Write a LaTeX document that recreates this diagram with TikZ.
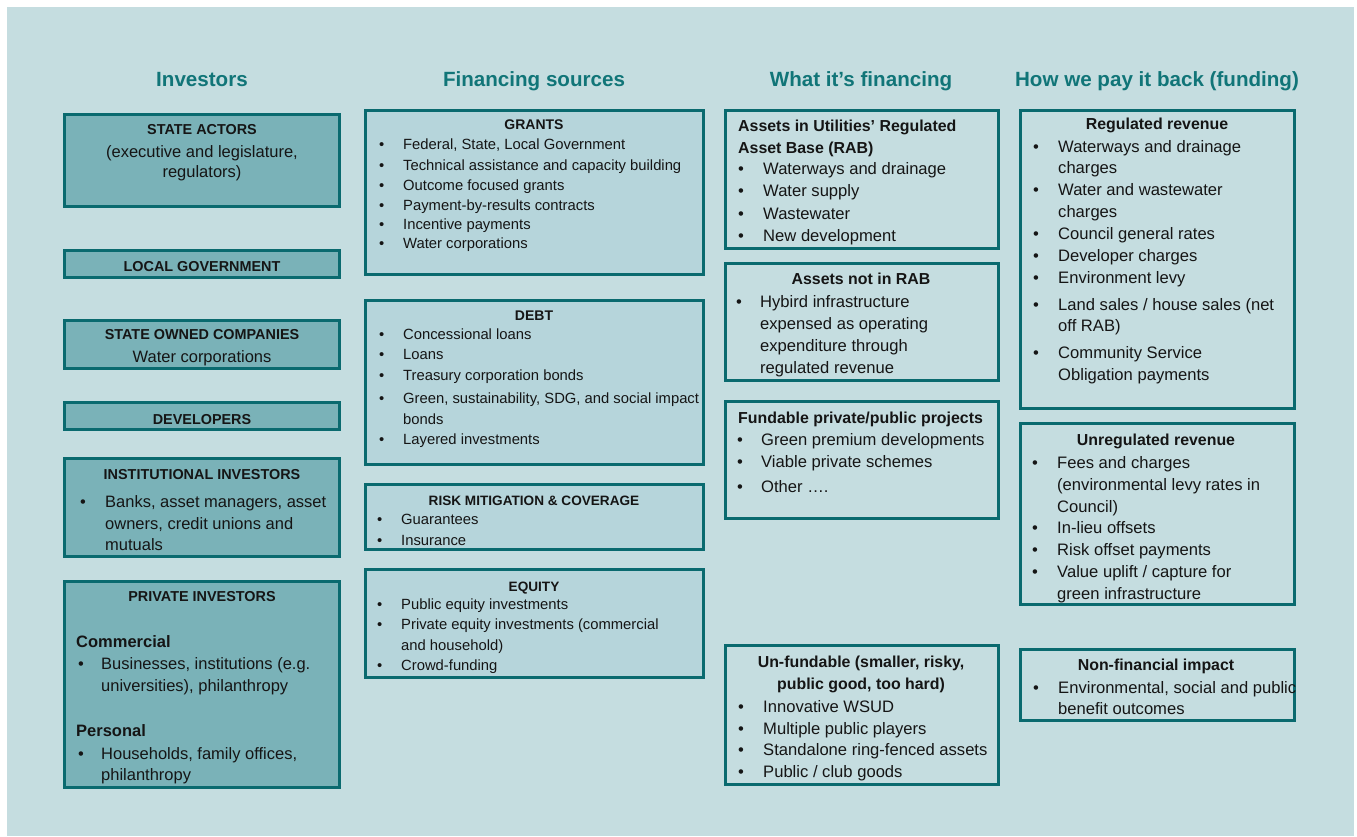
\documentclass[tikz,border=0pt]{standalone}
\usepackage{fontspec}
\setmainfont{Liberation Sans}
\usetikzlibrary{fit}
\definecolor{bgc}{HTML}{C5DDE0}
\definecolor{invfill}{HTML}{7AB2B8}
\definecolor{srcfill}{HTML}{B6D5DB}
\definecolor{edge}{HTML}{0A6A6F}
\definecolor{head}{HTML}{117578}
\definecolor{ink}{HTML}{151515}
\tikzset{
  boxbase/.style={draw=edge, line width=3pt, inner sep=0pt},
  invbox/.style={boxbase, fill=invfill},
  srcbox/.style={boxbase, fill=srcfill},
  usebox/.style={boxbase, fill=bgc},
  heading/.style={text=head, anchor=base, inner sep=0pt, font=\fontsize{20.6}{24}\selectfont\bfseries},
  txt/.style={text=ink, inner sep=0pt, anchor=base west},
  ctitle/.style={text=ink, inner sep=0pt, anchor=base},
  fa/.style={font=\fontsize{16.5}{20}\selectfont},
  fat/.style={font=\fontsize{14.4}{18}\selectfont\bfseries},
  fb/.style={font=\fontsize{14.8}{18}\selectfont},
  fbt/.style={font=\fontsize{14}{18}\selectfont\bfseries},
  fc/.style={font=\fontsize{16.6}{20}\selectfont},
  fct/.style={font=\fontsize{15.9}{20}\selectfont\bfseries},
}
% bullet item: name, font style, bullet x, text x, baseline y, text
\newcommand\bitem[6]{%
  \node[txt,#2] (#1-b) at (#3,#5) {\textbullet};
  \node[txt,#2] (#1) at (#4,#5) {#6};}
% plain line: name, font style, x, baseline y, text
\newcommand\pline[5]{\node[txt,#2] (#1) at (#3,#4) {#5};}
% centred title: name, font style, x, baseline y, text
\newcommand\ctl[5]{\node[ctitle,#2] (#1) at (#3,#4) {#5};}
\begin{document}
\begin{tikzpicture}[x=1pt,y=-1pt]
\useasboundingbox (0,0) rectangle (1357,836);
\fill[white] (0,0) rectangle (1357,836);
\fill[bgc] (7,7) rectangle (1354,836);

% headings
\node[heading] (h1) at (202,86) {Investors};
\node[heading] (h2) at (534,86) {Financing sources};
\node[heading] (h3) at (861,86) {What it’s financing};
\node[heading] (h4) at (1157,86) {How we pay it back (funding)};

% ---------------- column 1: investors ----------------
\node[invbox, fit={(64.5,114.5)(339.5,206)}] (sa) {};
\node[invbox, fit={(64.5,250)(339.5,277)}] (lg) {};
\node[invbox, fit={(64.5,320)(339.5,368.5)}] (soc) {};
\node[invbox, fit={(64.5,402)(339.5,429.5)}] (dev) {};
\node[invbox, fit={(64.5,458)(339.5,556.5)}] (inst) {};
\node[invbox, fit={(64.5,581.5)(339.5,787)}] (priv) {};

\ctl{sa-t}{fat}{202}{134}{STATE ACTORS}
\ctl{sa-1}{fa}{202}{157}{(executive and legislature,}
\ctl{sa-2}{fa}{202}{177}{regulators)}
\ctl{lg-t}{fat}{202}{271}{LOCAL GOVERNMENT}
\ctl{soc-t}{fat}{202}{339}{STATE OWNED COMPANIES}
\ctl{soc-1}{fa}{202}{362}{Water corporations}
\ctl{dev-t}{fat}{202}{424}{DEVELOPERS}
\ctl{inst-t}{fat}{202}{479}{INSTITUTIONAL INVESTORS}
\bitem{inst-1}{fa}{80}{105}{507}{Banks, asset managers, asset}
\pline{inst-2}{fa}{105}{529}{owners, credit unions and}
\pline{inst-3}{fa}{105}{550}{mutuals}
\ctl{priv-t}{fat}{202}{601}{PRIVATE INVESTORS}
\pline{priv-c}{fa,font=\fontsize{16.5}{20}\selectfont\bfseries}{76}{647}{Commercial}
\bitem{priv-1}{fa}{78}{101}{669}{Businesses, institutions (e.g.}
\pline{priv-2}{fa}{101}{691}{universities), philanthropy}
\pline{priv-p}{fa,font=\fontsize{16.5}{20}\selectfont\bfseries}{76}{736}{Personal}
\bitem{priv-3}{fa}{78}{101}{759}{Households, family offices,}
\pline{priv-4}{fa}{101}{780}{philanthropy}

% ---------------- column 2: financing sources ----------------
\node[srcbox, fit={(365,110)(703.5,274)}] (grants) {};
\node[srcbox, fit={(365,300.5)(703.5,464.5)}] (debt) {};
\node[srcbox, fit={(365,484)(703.5,549.5)}] (risk) {};
\node[srcbox, fit={(365,569)(703.5,677.5)}] (equity) {};

\ctl{grants-t}{fbt}{534}{129}{GRANTS}
\bitem{g1}{fb}{379}{403}{149}{Federal, State, Local Government}
\bitem{g2}{fb}{379}{403}{170}{Technical assistance and capacity building}
\bitem{g3}{fb}{379}{403}{190}{Outcome focused grants}
\bitem{g4}{fb}{379}{403}{210}{Payment-by-results contracts}
\bitem{g5}{fb}{379}{403}{229}{Incentive payments}
\bitem{g6}{fb}{379}{403}{248}{Water corporations}

\ctl{debt-t}{fbt}{534}{320}{DEBT}
\bitem{d1}{fb}{379}{403}{339}{Concessional loans}
\bitem{d2}{fb}{379}{403}{359}{Loans}
\bitem{d3}{fb}{379}{403}{380}{Treasury corporation bonds}
\bitem{d4}{fb}{379}{403}{403}{Green, sustainability, SDG, and social impact}
\pline{d5}{fb}{403}{424}{bonds}
\bitem{d6}{fb}{379}{403}{444}{Layered investments}

\ctl{risk-t}{fbt,font=\fontsize{13.6}{18}\selectfont\bfseries}{534}{505}{RISK MITIGATION \& COVERAGE}
\bitem{r1}{fb}{377}{401}{524}{Guarantees}
\bitem{r2}{fb}{377}{401}{545}{Insurance}

\ctl{eq-t}{fbt,font=\fontsize{13.6}{18}\selectfont\bfseries}{534}{591}{EQUITY}
\bitem{e1}{fb}{377}{401}{609}{Public equity investments}
\bitem{e2}{fb}{377}{401}{629}{Private equity investments (commercial}
\pline{e3}{fb}{401}{650}{and household)}
\bitem{e4}{fb}{377}{401}{670}{Crowd-funding}

% ---------------- column 3: what it's financing ----------------
\node[usebox, fit={(725,110)(998,248.5)}] (rab) {};
\node[usebox, fit={(725,263)(998,380)}] (notrab) {};
\node[usebox, fit={(725,401.5)(998,518)}] (fund) {};
\node[usebox, fit={(725,645)(998,784)}] (unf) {};

\pline{rab-t1}{fct}{738}{131}{Assets in Utilities’ Regulated}
\pline{rab-t2}{fct}{738}{153}{Asset Base (RAB)}
\bitem{ra1}{fc}{738}{763}{174}{Waterways and drainage}
\bitem{ra2}{fc}{738}{763}{196}{Water supply}
\bitem{ra3}{fc}{738}{763}{219}{Wastewater}
\bitem{ra4}{fc}{738}{763}{241}{New development}

\ctl{nr-t}{fct}{861}{284}{Assets not in RAB}
\bitem{nr1}{fc}{736}{760}{307}{Hybird infrastructure}
\pline{nr2}{fc}{760}{329}{expensed as operating}
\pline{nr3}{fc}{760}{351}{expenditure through}
\pline{nr4}{fc}{760}{373}{regulated revenue}

\pline{fu-t}{fct}{738}{423}{Fundable private/public projects}
\bitem{fu1}{fc}{737}{761}{445}{Green premium developments}
\bitem{fu2}{fc}{737}{761}{467}{Viable private schemes}
\bitem{fu3}{fc}{737}{761}{492}{Other ….}

\ctl{un-t1}{fct}{861}{667}{Un-fundable (smaller, risky,}
\ctl{un-t2}{fct}{861}{689}{public good, too hard)}
\bitem{un1}{fc}{738}{763}{712}{Innovative WSUD}
\bitem{un2}{fc}{738}{763}{734}{Multiple public players}
\bitem{un3}{fc}{738}{763}{755}{Standalone ring-fenced assets}
\bitem{un4}{fc}{738}{763}{777}{Public / club goods}

% ---------------- column 4: how we pay it back ----------------
\node[usebox, fit={(1020,110)(1294,408.5)}] (reg) {};
\node[usebox, fit={(1020,423.5)(1294,604.5)}] (unreg) {};
\node[usebox, fit={(1020,649)(1294,720)}] (nonfin) {};

\ctl{reg-t}{fct}{1157}{129}{Regulated revenue}
\bitem{rg1}{fc}{1033}{1058}{152}{Waterways and drainage}
\pline{rg1b}{fc}{1058}{173}{charges}
\bitem{rg2}{fc}{1033}{1058}{195}{Water and wastewater}
\pline{rg2b}{fc}{1058}{217}{charges}
\bitem{rg3}{fc}{1033}{1058}{239}{Council general rates}
\bitem{rg4}{fc}{1033}{1058}{261}{Developer charges}
\bitem{rg5}{fc}{1033}{1058}{283}{Environment levy}
\bitem{rg6}{fc}{1033}{1058}{310}{Land sales / house sales (net}
\pline{rg6b}{fc}{1058}{331}{off RAB)}
\bitem{rg7}{fc}{1033}{1058}{358}{Community Service}
\pline{rg7b}{fc}{1058}{380}{Obligation payments}

\ctl{ur-t}{fct}{1156}{445}{Unregulated revenue}
\bitem{ur1}{fc}{1032}{1057}{468}{Fees and charges}
\pline{ur1b}{fc}{1057}{490}{(environmental levy rates in}
\pline{ur1c}{fc}{1057}{512}{Council)}
\bitem{ur2}{fc}{1032}{1057}{533}{In-lieu offsets}
\bitem{ur3}{fc}{1032}{1057}{555}{Risk offset payments}
\bitem{ur4}{fc}{1032}{1057}{577}{Value uplift / capture for}
\pline{ur4b}{fc}{1057}{599}{green infrastructure}

\ctl{nf-t}{fct}{1156}{670}{Non-financial impact}
\bitem{nf1}{fc}{1033}{1058}{693}{Environmental, social and public}
\pline{nf2}{fc}{1058}{714}{benefit outcomes}
\end{tikzpicture}
\end{document}
